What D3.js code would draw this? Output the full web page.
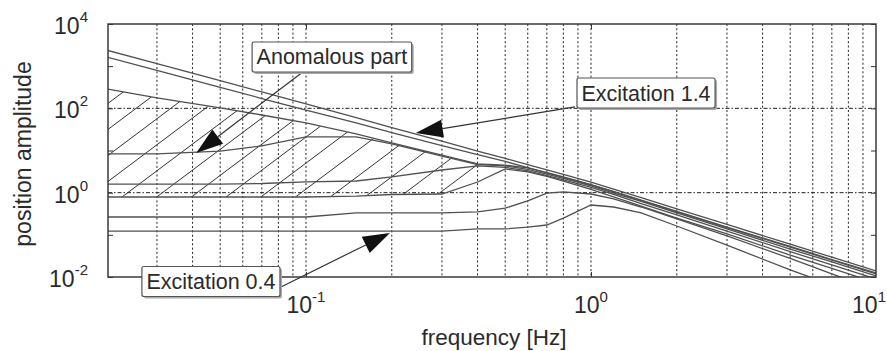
<!DOCTYPE html>
<meta charset="utf-8" />
<head>
  <script src="https://d3js.org/d3.v7.min.js"></script>
  <style>
    body { margin: 0; background: #fff; }
    text { font-family: "Liberation Sans", Arial, sans-serif; fill: #2a2a2a; }
    .tick-label { font-family: "Liberation Sans Narrow", "Liberation Sans", Arial, sans-serif; }
  </style>
</head>
<body>
<div id="chart"></div>
<script>
  // frequency samples [Hz]
  const freq = [0.02, 0.03, 0.05, 0.07, 0.1, 0.15, 0.2, 0.3, 0.4, 0.5, 0.6, 0.7, 0.8, 1, 1.2, 1.5, 2, 3, 5, 7, 10];

  // position amplitude, curves ordered top to bottom at low frequency
  // amp1 = excitation 1.4 ... amp8 = excitation 0.4
  const amp1 = [2400, 1150, 455, 244, 127, 60, 35, 16.6, 9.7, 6.5, 4.6, 3.47, 2.71, 1.79, 1.22, 0.76, 0.41, 0.176, 0.06, 0.0295, 0.0139];
  const amp2 = [1650, 790, 315, 171, 91, 45, 26.7, 13.1, 8.0, 5.5, 3.9, 2.94, 2.3, 1.52, 1.04, 0.65, 0.35, 0.149, 0.051, 0.025, 0.0118];
  const amp3 = [288, 176, 102, 69.5, 45, 24.7, 15.1, 7.8, 4.8, 4.5, 3.85, 3.0, 2.36, 1.56, 1.07, 0.67, 0.36, 0.153, 0.053, 0.026, 0.0125];
  const amp4 = [8.3, 8.3, 9.7, 12.8, 21, 21, 14.3, 7.4, 4.66, 4.3, 3.55, 2.77, 2.17, 1.44, 0.98, 0.62, 0.33, 0.138, 0.046, 0.0227, 0.0106];
  const amp5 = [1.6, 1.6, 1.6, 1.65, 1.8, 1.89, 2.36, 3.45, 4.3, 3.96, 3.27, 2.55, 2.0, 1.33, 0.91, 0.55, 0.296, 0.123, 0.04, 0.0193, 0.009];
  const amp6 = [0.79, 0.79, 0.79, 0.79, 0.79, 0.83, 0.905, 0.93, 1.79, 3.65, 3.1, 2.42, 1.89, 1.19, 0.79, 0.48, 0.25, 0.105, 0.033, 0.016, 0.0073];
  const amp7 = [0.265, 0.265, 0.265, 0.265, 0.265, 0.33, 0.33, 0.33, 0.35, 0.43, 0.64, 0.98, 1.04, 0.93, 0.71, 0.457, 0.24, 0.094, 0.0275, 0.0118, 0.0051];
  const amp8 = [0.123, 0.123, 0.123, 0.123, 0.123, 0.123, 0.123, 0.123, 0.138, 0.138, 0.153, 0.171, 0.25, 0.51, 0.457, 0.33, 0.162, 0.057, 0.0147, 0.0065, 0.0028];
  const curves = [amp1, amp2, amp3, amp4, amp5, amp6, amp7, amp8];

  // hatched "anomalous" band: between amp3 (top) and amp6 (bottom), up to 0.5 Hz
  const hatchEnd = 10;

  const xLabelTicks = [0.1, 1, 10];
  const xLabelExp = ["-1", "0", "1"];
  const yLabelTicks = [1e-2, 1, 1e2, 1e4];
  const yLabelExp = ["-2", "0", "2", "4"];
  const yDecades = [1e-2, 1e-1, 1, 10, 1e2, 1e3, 1e4];
  const xGrid = [0.03, 0.04, 0.05, 0.06, 0.07, 0.08, 0.09, 0.1, 0.2, 0.3, 0.4, 0.5, 0.6, 0.7, 0.8, 0.9, 1, 2, 3, 4, 5, 6, 7, 8, 9];
  const yGrid = [1, 100];

  const annotations = [
    { text: "Anomalous part", box: [0.1233, 1650], from: [0.0975, 728], tip: [0.0412, 8.7] },
    { text: "Excitation 1.4", box: [1.56, 231], from: [0.878, 108], tip: [0.243, 26] },
    { text: "Excitation 0.4", box: [0.0464, 0.00783], from: [0.0817, 0.0058], tip: [0.197, 0.111] }
  ];

  const W = 887, H = 351;
  const margin = { top: 24, right: 11, bottom: 74, left: 108 };

  const x = d3.scaleLog().domain([0.0202, 10]).range([margin.left, W - margin.right]);
  const y = d3.scaleLog().domain([0.01, 10000]).range([H - margin.bottom, margin.top]);
  const [x0, x1] = x.range();
  const [y0, y1] = [y.range()[1], y.range()[0]];

  const svg = d3.select("#chart").append("svg").attr("width", W).attr("height", H);
  const defs = svg.append("defs");
  defs.append("clipPath").attr("id", "plotClip").append("rect")
    .attr("x", x0).attr("y", y0).attr("width", x1 - x0).attr("height", y1 - y0);

  // grid
  const grid = svg.append("g");
  grid.selectAll("line.vg").data(xGrid).join("line")
    .attr("x1", d => x(d)).attr("x2", d => x(d)).attr("y1", y0).attr("y2", y1)
    .attr("stroke", "#222").attr("stroke-width", 1).attr("stroke-dasharray", "2,2.3");
  grid.selectAll("line.hg").data(yGrid).join("line")
    .attr("x1", x0).attr("x2", x1).attr("y1", d => y(d)).attr("y2", d => y(d))
    .attr("stroke", "#222").attr("stroke-width", 1).attr("stroke-dasharray", "4,2,1.5,2");

  const plot = svg.append("g").attr("clip-path", "url(#plotClip)");

  // hatch
  const hatchData = freq.slice(0, hatchEnd).map((f, i) => ({ f, lo: amp6[i], hi: amp3[i] }));
  const area = d3.area().x(d => x(d.f)).y0(d => y(d.lo)).y1(d => y(d.hi));
  defs.append("clipPath").attr("id", "hatchClip").append("path").attr("d", area(hatchData));
  const hatch = plot.append("g").attr("clip-path", "url(#hatchClip)");
  const hatchStep = 34.7, hatchSlope = 0.75;
  const baseY = y(amp6[0]), baseX = x0 + 14;
  for (let k = -6; k < 16; k++) {
    const cx = baseX + k * hatchStep;
    hatch.append("line")
      .attr("x1", cx - 200).attr("y1", baseY + hatchSlope * 200)
      .attr("x2", cx + 300).attr("y2", baseY - hatchSlope * 300)
      .attr("stroke", "#333").attr("stroke-width", 1);
  }

  // curves
  const line = d3.line().x(d => x(d[0])).y(d => y(d[1]));
  plot.selectAll("path.curve").data(curves).join("path")
    .attr("class", "curve")
    .attr("d", c => line(freq.map((f, i) => [f, c[i]])))
    .attr("fill", "none").attr("stroke", "#505050").attr("stroke-width", 1.3);

  // axes ticks (inward)
  const axes = [
    svg.append("g").attr("transform", `translate(${x0},0)`).call(d3.axisLeft(y).tickValues(yDecades).tickSize(-5).tickFormat("")),
    svg.append("g").attr("transform", `translate(${x1},0)`).call(d3.axisRight(y).tickValues(yDecades).tickSize(-5).tickFormat("")),
    svg.append("g").attr("transform", `translate(0,${y1})`).call(d3.axisBottom(x).tickValues([0.1, 1]).tickSize(-5).tickFormat("")),
    svg.append("g").attr("transform", `translate(0,${y0})`).call(d3.axisTop(x).tickValues([0.1, 1]).tickSize(-5).tickFormat(""))
  ];
  axes.forEach(a => { a.select(".domain").remove(); a.selectAll(".tick line").attr("stroke", "#333"); });

  svg.append("rect").attr("x", x0).attr("y", y0).attr("width", x1 - x0).attr("height", y1 - y0)
    .attr("fill", "none").attr("stroke", "#3a3a3a").attr("stroke-width", 1.5);

  // tick labels
  const yl = svg.append("g");
  yLabelTicks.forEach((v, i) => {
    const t = yl.append("text").attr("class", "tick-label").attr("x", x0 - 20).attr("y", y(v) + 10)
      .attr("text-anchor", "end").style("font-size", "23px");
    t.append("tspan").text("10");
    t.append("tspan").attr("dy", -12).style("font-size", "15px").text(yLabelExp[i]);
  });
  xLabelTicks.forEach((v, i) => {
    const t = yl.append("text").attr("class", "tick-label").attr("x", x(v)).attr("y", y1 + 36)
      .attr("text-anchor", "middle").style("font-size", "23px");
    t.append("tspan").text("10");
    t.append("tspan").attr("dy", -11).style("font-size", "15px").text(xLabelExp[i]);
    // keep the last label inside the page
    const bb = t.node().getBBox();
    if (bb.x + bb.width > W - 1) t.attr("x", x(v) - (bb.x + bb.width - (W - 1)));
  });

  svg.append("text").attr("x", (x0 + x1) / 2 + 2).attr("y", 345).attr("text-anchor", "middle")
    .style("font-size", "22.5px").text("frequency [Hz]");
  svg.append("text").attr("transform", "translate(31,154) rotate(-90)").attr("text-anchor", "middle")
    .style("font-size", "23px").text("position amplitude");

  // annotations
  const ann = svg.append("g");
  function arrow(from, tip, len, half) {
    const dx = tip[0] - from[0], dy = tip[1] - from[1], L = Math.hypot(dx, dy);
    const ux = dx / L, uy = dy / L;
    const bx = tip[0] - ux * len, by = tip[1] - uy * len;
    ann.append("line").attr("x1", from[0]).attr("y1", from[1]).attr("x2", bx).attr("y2", by)
      .attr("stroke", "#333").attr("stroke-width", 1.2);
    ann.append("path")
      .attr("d", `M${tip[0]},${tip[1]}L${bx - uy * half},${by + ux * half}L${bx + uy * half},${by - ux * half}Z`)
      .attr("fill", "#111");
  }
  annotations.forEach(a => {
    const from = [x(a.from[0]), y(a.from[1])];
    const tip = [x(a.tip[0]), y(a.tip[1])];
    arrow(from, tip, 27, 9);
    const cx = x(a.box[0]), cy = y(a.box[1]);
    const g = ann.append("g");
    const t = g.append("text").attr("x", cx).attr("y", cy + 7.5).attr("text-anchor", "middle")
      .style("font-size", "21.5px").text(a.text);
    const w = t.node().getComputedTextLength() + 9, h = 30;
    g.insert("rect", "text").attr("x", cx - w / 2 + 2).attr("y", cy - h / 2 + 2).attr("width", w).attr("height", h)
      .attr("rx", 2).attr("fill", "#aaa");
    g.insert("rect", "text").attr("x", cx - w / 2).attr("y", cy - h / 2).attr("width", w).attr("height", h)
      .attr("rx", 2).attr("fill", "#fff").attr("stroke", "#555").attr("stroke-width", 1.2);
  });
</script>
</body>
